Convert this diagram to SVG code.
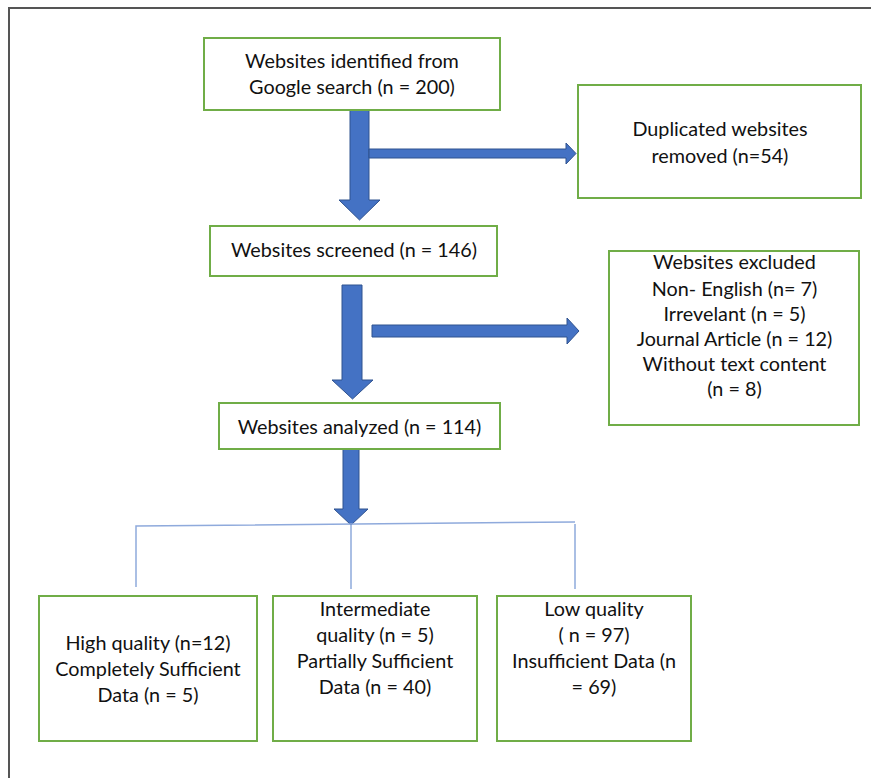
<svg xmlns="http://www.w3.org/2000/svg" width="871" height="778" viewBox="0 0 871 778">
<style>
.box{fill:#fff;stroke:#70ad47;stroke-width:2}
.t{font-family:Lato,"Open Sans","Liberation Sans",sans-serif;font-size:19.8px;fill:#111;text-anchor:middle}
.arr{fill:#4472c4;stroke:#2f528f;stroke-width:1}
.thin{stroke:#8faadc;stroke-width:1.5;fill:none}
.frame{stroke:#555;stroke-width:2;fill:none}
</style>
<path class="frame" d="M9,778 V8 H871"/>
<g id="connectors">
<polygon class="arr" points="350,110 369,110 369,200 380,200 359.5,220 339,200 350,200"/>
<polygon class="arr" points="369,149 566,149 566,143 576,153.5 566,164 566,158 369,158"/>
<polygon class="arr" points="342,285 362,285 362,380 373,380 352.5,399 332,380 342,380"/>
<polygon class="arr" points="372,325 567,325 567,318 579,331 567,344 567,337 372,337"/>
<polygon class="arr" points="343,449 359,449 359,509 368,509 351,525 334,509 343,509"/>
<path class="thin" d="M136,587 V526 L575,522 M351,525 V589 M575,524 V589"/>
</g>
<g id="identified">
<rect class="box" x="204" y="38" width="296" height="72"/>
<text class="t" x="352" y="68">Websites identified from</text>
<text class="t" x="352" y="94">Google search (n = 200)</text>
</g>
<g id="duplicated">
<rect class="box" x="578" y="85" width="283" height="113"/>
<text class="t" x="720" y="136">Duplicated websites</text>
<text class="t" x="720" y="163">removed (n=54)</text>
</g>
<g id="screened">
<rect class="box" x="210" y="226" width="287" height="50"/>
<text class="t" x="354" y="257">Websites screened (n = 146)</text>
</g>
<g id="excluded">
<rect class="box" x="609" y="251" width="250" height="174"/>
<text class="t" x="734.5" y="269">Websites excluded</text>
<text class="t" x="734.5" y="296">Non- English (n= 7)</text>
<text class="t" x="734.5" y="321">Irrevelant (n = 5)</text>
<text class="t" x="734.5" y="346">Journal Article (n = 12)</text>
<text class="t" x="734.5" y="371">Without text content</text>
<text class="t" x="734.5" y="396">(n = 8)</text>
</g>
<g id="analyzed">
<rect class="box" x="219" y="403" width="281" height="46"/>
<text class="t" x="359.5" y="434">Websites analyzed (n = 114)</text>
</g>
<g id="high">
<rect class="box" x="39" y="596" width="218" height="145"/>
<text class="t" x="148" y="650">High quality (n=12)</text>
<text class="t" x="148" y="676">Completely Sufficient</text>
<text class="t" x="148" y="702">Data (n = 5)</text>
</g>
<g id="intermediate">
<rect class="box" x="273" y="596" width="204" height="145"/>
<text class="t" x="375" y="616">Intermediate</text>
<text class="t" x="375" y="642">quality (n = 5)</text>
<text class="t" x="375" y="668">Partially Sufficient</text>
<text class="t" x="375" y="694">Data (n = 40)</text>
</g>
<g id="low">
<rect class="box" x="497" y="596" width="194" height="145"/>
<text class="t" x="594" y="616">Low quality</text>
<text class="t" x="594" y="642">( n = 97)</text>
<text class="t" x="594" y="668">Insufficient Data (n</text>
<text class="t" x="594" y="694">= 69)</text>
</g>
</svg>
